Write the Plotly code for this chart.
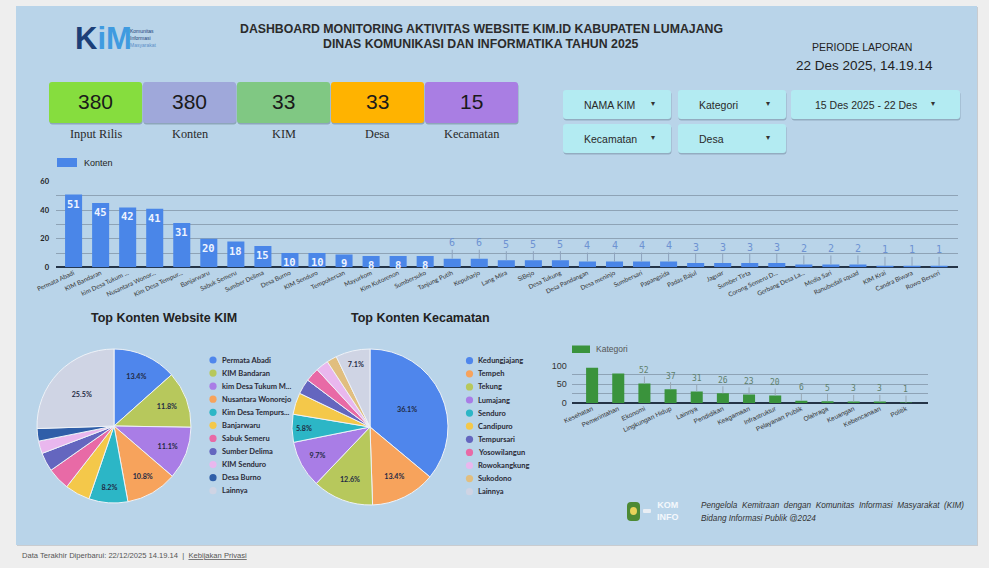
import plotly.graph_objects as go

W, H = 989, 568


def X(p):
    return p / W


def Y(p):
    return 1 - p / H


# ---------------- DATA ----------------
konten_names = [
    "Permata Abadi", "KIM Bandaran", "kim Desa Tukum ...", "Nusantara Wonor...",
    "Kim Desa Tempur...", "Banjarwaru", "Sabuk Semeru", "Sumber Delima",
    "Desa Burno", "KIM Senduro", "Tempokersan", "Mayurkom", "Kim Kutorenon",
    "Sumbersuko", "Tanjung Putih", "Kepuharjo", "Lang Mira", "SiBejo",
    "Desa Tukung", "Desa Pandangan", "Desa meninjo", "Sumbersari",
    "Papangsida", "Padas Bajul", "Jaguar", "Sumber Tirta",
    "Corong Semeru D...", "Gerbang Desa La...", "Media Sari",
    "Ranubedali squad", "KIM Krai", "Candra Biwara", "Rowo Berseri",
]
konten_vals = [51, 45, 42, 41, 31, 20, 18, 15, 10, 10, 9, 8, 8, 8, 6, 6,
               5, 5, 5, 4, 4, 4, 4, 3, 3, 3, 3, 2, 2, 2, 1, 1, 1]

kim_names = ["Permata Abadi", "KIM Bandaran", "kim Desa Tukum M...",
             "Nusantara Wonorejo", "Kim Desa Tempurs...", "Banjarwaru",
             "Sabuk Semeru", "Sumber Delima", "KIM Senduro", "Desa Burno",
             "Lainnya"]
kim_vals = [51, 45, 42, 41, 31, 20, 18, 15, 10, 10, 97]
kim_colors = ["#4f86ec", "#b7c85c", "#a97de6", "#f7a35c", "#2cb6c6",
              "#f4c84a", "#e86aa6", "#6466bf", "#e9b7ee", "#2f5ea8", "#cfd4e4"]

kec_names = ["Kedungjajang", "Tempeh", "Tekung", "Lumajang", "Senduro",
             "Candipuro", "Tempursari", "Yosowilangun", "Rowokangkung",
             "Sukodono", "Lainnya"]
kec_vals = [137, 51, 48, 37, 22, 17, 12, 11, 10, 8, 27]
kec_colors = ["#4f86ec", "#f7a35c", "#b7c85c", "#a97de6", "#2cb6c6",
              "#f4c84a", "#6466bf", "#e86aa6", "#e9b7ee", "#e1be7f", "#cfd4e4"]

kat_names = ["Kesehatan", "Pemerintahan", "Ekonomi", "Lingkungan Hidup",
             "Lainnya", "Pendidikan", "Keagamaan", "Infrastruktur",
             "Pelayanan Publik", "Olahraga", "Keuangan", "Kebencanaan", "Politik"]
kat_vals = [94, 79, 52, 37, 31, 26, 23, 20, 6, 5, 3, 3, 1]

kpi_vals = ["380", "380", "33", "33", "15"]
kpi_labels = ["Input Rilis", "Konten", "KIM", "Desa", "Kecamatan"]
kpi_colors = ["#86dd3e", "#9fa8da", "#80c883", "#ffb300", "#a97ee3"]

BLUE = "#4a86e8"
GREEN = "#3a933c"
MONO = "DejaVu Sans Mono"

fig = go.Figure()

# ---------------- main bar chart ----------------
fig.add_trace(go.Bar(
    x=konten_names, y=konten_vals, marker=dict(color=BLUE, line=dict(width=0)),
    width=0.63, xaxis="x", yaxis="y", showlegend=False, hoverinfo="x+y",
))

# ---------------- category bar chart ----------------
fig.add_trace(go.Bar(
    x=kat_names, y=kat_vals, marker=dict(color=GREEN, line=dict(width=0)),
    width=0.46, xaxis="x2", yaxis="y2", showlegend=False,
))

# ---------------- pies ----------------
def pie_text(vals):
    tot = sum(vals)
    return ["%{percent:.1%}" if v / tot >= 0.055 else "" for v in vals]


fig.add_trace(go.Pie(
    labels=kim_names, values=kim_vals, sort=False, direction="clockwise",
    rotation=0, marker=dict(colors=kim_colors, line=dict(color="#eef2f8", width=1)),
    texttemplate=pie_text(kim_vals), textposition="inside",
    insidetextorientation="horizontal",
    textfont=dict(family="Lato", size=7.2, color="#1f2a44", weight="bold"),
    domain=dict(x=[X(37), X(191)], y=[Y(503), Y(349)]), showlegend=False,
))
fig.add_trace(go.Pie(
    labels=kec_names, values=kec_vals, sort=False, direction="clockwise",
    rotation=0, marker=dict(colors=kec_colors, line=dict(color="#eef2f8", width=1)),
    texttemplate=pie_text(kec_vals), textposition="inside",
    insidetextorientation="horizontal",
    textfont=dict(family="Lato", size=7.2, color="#1f2a44", weight="bold"),
    domain=dict(x=[X(292), X(448)], y=[Y(505), Y(349)]), showlegend=False,
))

shapes = []
annotations = []


def rrect(x0, y0, x1, y1, r, fill, layer="below"):
    a, b, top, bot = X(x0), X(x1), Y(y0), Y(y1)
    rx, ry = r / W, r / H
    path = (f"M {a+rx},{top} L {b-rx},{top} Q {b},{top} {b},{top-ry} "
            f"L {b},{bot+ry} Q {b},{bot} {b-rx},{bot} L {a+rx},{bot} "
            f"Q {a},{bot} {a},{bot+ry} L {a},{top-ry} Q {a},{top} {a+rx},{top} Z")
    shapes.append(dict(type="path", path=path, xref="paper", yref="paper",
                       fillcolor=fill, line=dict(width=0), layer=layer))


def txt(x, y, s, size, color="#222", family="Arial", xanchor="center",
        bold=False, italic=False, **kw):
    font = dict(family=family, size=size, color=color)
    if bold:
        font["weight"] = "bold"
    if italic:
        font["style"] = "italic"
    annotations.append(dict(x=X(x), y=Y(y), xref="paper", yref="paper", text=s,
                            showarrow=False, xanchor=xanchor, yanchor="middle",
                            font=font, **kw))


# panel
shapes.append(dict(type="rect", xref="paper", yref="paper", x0=X(17), x1=X(978),
                   y0=Y(546), y1=Y(7), fillcolor="#c9ccd0", line=dict(width=0), layer="below"))
shapes.append(dict(type="rect", xref="paper", yref="paper", x0=X(16), x1=X(977),
                   y0=Y(545), y1=Y(6), fillcolor="#b9d4e9", line=dict(width=0), layer="below"))

# logo
txt(103, 38, "<span style='color:#1c3f77'>K</span><span style='color:#3f9be0'>iM</span>",
    31, family="Arial", bold=True)
for i, w in enumerate(["Komunitas", "Informasi", "Masyarakat"]):
    txt(128, 31 + 7 * i, w, 5, color=["#1c3f77", "#1c3f77", "#5b8fc8"][i],
        xanchor="left", family="Arial")

# title
txt(481, 29, "DASHBOARD MONITORING AKTIVITAS WEBSITE KIM.ID KABUPATEN LUMAJANG",
    12.3, color="#2b2b2b", bold=True)
txt(481, 44, "DINAS KOMUNIKASI DAN INFORMATIKA TAHUN 2025", 12.3,
    color="#2b2b2b", bold=True)
txt(862, 47, "PERIODE LAPORAN", 10.5, color="#222")
txt(864, 66, "22 Des 2025, 14.19.14", 13.5, color="#222")

# KPI cards
for i, (v, lab, col) in enumerate(zip(kpi_vals, kpi_labels, kpi_colors)):
    x0 = 49 + 94 * i
    x1 = x0 + 93
    rrect(x0 + 0.5, 83.5, x1 + 0.5, 124.5, 3, "rgba(60,80,100,0.35)")
    rrect(x0, 82, x1, 123, 3, col)
    txt((x0 + x1) / 2, 102, v, 21, color="#1a1a1a")
    txt((x0 + x1) / 2, 134, lab, 12.3, color="#2a2a2a", family="Liberation Serif")

# filter buttons
buttons = [((563, 671), (90, 119), "NAMA KIM"), ((678, 786), (90, 119), "Kategori"),
           ((791, 960), (90, 119), "15 Des 2025 - 22 Des"),
           ((563, 671), (124, 153), "Kecamatan"), ((678, 786), (124, 153), "Desa")]
for (x0, x1), (y0, y1), lab in buttons:
    rrect(x0 + 0.5, y0 + 1.5, x1 + 0.5, y1 + 1.5, 3, "rgba(60,80,100,0.30)")
    rrect(x0, y0, x1, y1, 3, "#b3ebf2")
    txt(x0 + 18.5 if x1 - x0 < 150 else x0 + 22, (y0 + y1) / 2, lab, 10.5,
        color="#2a2a2a", xanchor="left")
    txt(x1 - 18.5 if x1 - x0 < 150 else x1 - 27, (y0 + y1) / 2 - 1, "▾", 8, color="#333")

# main chart legend
shapes.append(dict(type="rect", xref="paper", yref="paper", x0=X(57), x1=X(77),
                   y0=Y(167), y1=Y(158), fillcolor=BLUE, line=dict(width=0)))
txt(82, 162.5, "Konten", 9, color="#222", xanchor="left")

# value labels on main chart
for n, v in zip(konten_names, konten_vals):
    if v >= 8:
        annotations.append(dict(x=n, y=v, xref="x", yref="y", text=str(v),
                                showarrow=False, yanchor="top", yshift=-1,
                                font=dict(family=MONO, size=10.5, color="#eef3ff",
                                          weight="bold")))
    else:
        annotations.append(dict(x=n, y=v, xref="x", yref="y", text=str(v),
                                showarrow=True, arrowhead=0, arrowwidth=1,
                                arrowcolor="#8ea3bd", ax=0, ay=-16,
                                font=dict(family=MONO, size=10, color="#6d92d2")))

# category legend
shapes.append(dict(type="rect", xref="paper", yref="paper", x0=X(572), x1=X(590),
                   y0=Y(353), y1=Y(345.5), fillcolor=GREEN, line=dict(width=0)))
txt(594, 349, "Kategori", 8.5, color="#555", xanchor="left")
for n, v in zip(kat_names, kat_vals):
    if v < 60:
        annotations.append(dict(x=n, y=v, xref="x2", yref="y2", text=str(v),
                                showarrow=True, arrowhead=0, arrowwidth=1,
                                arrowcolor="#98a8b4", ax=0, ay=-13,
                                font=dict(family=MONO, size=8, color="#5f806c")))

# pie titles
txt(164, 318, "Top Konten Website KIM", 12.5, color="#222", bold=True)
txt(420, 318, "Top Konten Kecamatan", 12.5, color="#222", bold=True)

# pie legends
for dx, tx, y0, step, names, cols in [(213, 220, 360, 13.07, kim_names, kim_colors),
                                       (469.5, 476, 360.7, 13.1, kec_names, kec_colors)]:
    for i, (n, c) in enumerate(zip(names, cols)):
        yy = y0 + step * i
        shapes.append(dict(type="circle", xref="paper", yref="paper",
                           x0=X(dx - 3.6), x1=X(dx + 3.6), y0=Y(yy + 3.6), y1=Y(yy - 3.6),
                           fillcolor=c, line=dict(width=0)))
        txt(tx, yy, n, 7.5, color="#2a2a36", family="Lato", xanchor="left", bold=True)

# footer logos + text
rrect(627, 502, 640, 521, 4, "#4d8a34")
shapes.append(dict(type="circle", xref="paper", yref="paper", x0=X(630), x1=X(637),
                   y0=Y(515), y1=Y(507), fillcolor="#e8d25a", line=dict(width=0)))
rrect(643, 509, 651, 513, 1, "#e9eef4")
txt(668, 511, "KOM<br>INFO", 9, color="#f4f8fc", bold=True)
txt(699, 505, "Pengelola  Kemitraan  dengan  Komunitas  Informasi  Masyarakat  (KIM)",
    8.2, color="#333", xanchor="left", italic=True)
txt(699, 518, "Bidang Informasi Publik @2024", 8.2, color="#333", xanchor="left", italic=True)

# bottom page footer
txt(20, 555, "Data Terakhir Diperbarui: 22/12/2025 14.19.14 &nbsp;|&nbsp; <u>Kebijakan Privasi</u>",
    7.6, color="#555", xanchor="left")

GRID = "#8ea3b6"
fig.update_layout(
    width=W, height=H, margin=dict(l=0, r=0, t=0, b=0, pad=0),
    paper_bgcolor="#eeeeee", plot_bgcolor="rgba(0,0,0,0)",
    shapes=shapes, annotations=annotations,
    xaxis=dict(domain=[X(56), X(958)], anchor="y", range=[-0.65, 32.7],
               tickmode="array", tickvals=konten_names, ticktext=konten_names,
               tickangle=-25, tickfont=dict(family="Lato", size=6.3, color="#333"),
               showgrid=False, zeroline=False, showline=False, ticks="",
               automargin=False, fixedrange=True),
    yaxis=dict(domain=[Y(267.3), Y(181.7)], anchor="x", range=[0, 60], dtick=20,
               tickfont=dict(family="Lato", size=7.5, color="#222", weight="bold"),
               gridcolor=GRID, gridwidth=1, zeroline=True, zerolinecolor="#243447",
               zerolinewidth=1.5, minor=dict(dtick=10, showgrid=True, gridcolor=GRID),
               showline=False, ticks="", ticklabelstandoff=6, automargin=False),
    xaxis2=dict(domain=[X(571.7), X(927.7)], anchor="y2", range=[-0.78, 12.83],
                tickmode="array", tickvals=kat_names, ticktext=kat_names,
                tickangle=-25, tickfont=dict(family="Arial", size=6.5, color="#333"),
                showgrid=False, zeroline=False, showline=False, ticks="",
                automargin=False),
    yaxis2=dict(domain=[Y(403), Y(365.5)], anchor="x2", range=[0, 100], dtick=50,
                tickfont=dict(family="Arial", size=9, color="#333"),
                gridcolor=GRID, gridwidth=1, zeroline=True, zerolinecolor="#243447",
                zerolinewidth=1.5, minor=dict(dtick=25, showgrid=True, gridcolor=GRID),
                showline=False, ticks="", ticklabelstandoff=4, automargin=False),
)

fig.write_html(
    "out.html",
    config=dict(displayModeBar=False),
    post_script="document.body.style.margin='0';document.body.style.padding='0';"
                "document.body.style.background='#eeeeee';"
                "document.body.style.overflow='hidden';",
)
